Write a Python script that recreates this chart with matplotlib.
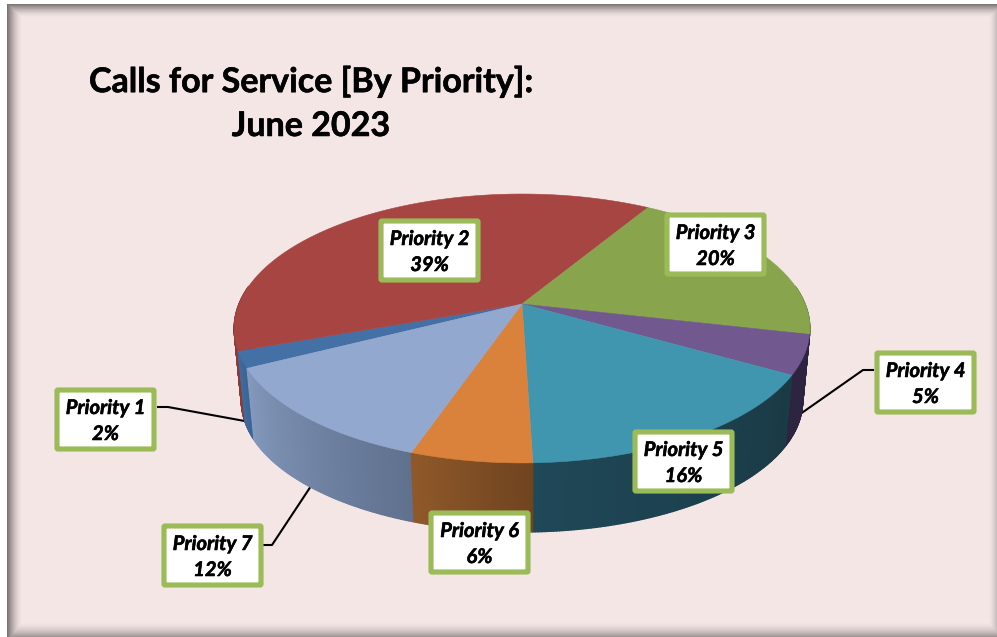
import numpy as np
import matplotlib
matplotlib.use("Agg")
import matplotlib.pyplot as plt
import matplotlib.patheffects as pe
from matplotlib.collections import PolyCollection
from matplotlib.colors import to_rgb
from matplotlib.patches import FancyBboxPatch, Polygon

# slice shares, clockwise from Priority 1
names = ["Priority 1", "Priority 2", "Priority 3", "Priority 4", "Priority 5", "Priority 6", "Priority 7"]
values = [2.0, 39.1, 20.0, 4.7, 16.2, 5.75, 12.25]
top_colors = ["#4471A5", "#A74543", "#88A44D", "#71588F", "#4096AE", "#DA823C", "#92A8CE"]
wall_right = ["#3A6496", "#8C3A37", "#6F8640", "#2C2440", "#1A3A45", "#6F441F", "#60718E"]
wall_left = ["#3F6A9C", "#8C3A37", "#6F8640", "#2C2440", "#1F4858", "#90592A", "#8398BC"]
# top-left corner of each label box
box_xy = [(54, 387), (378, 218), (664, 212), (874, 350), (632, 429), (428, 510), (161, 523)]
leaders = {
    0: [(157, 407), (168, 407), (250, 422)],
    3: [(874, 370), (863, 370), (796, 417)],
    6: [(263, 545), (272, 545), (313, 483)],
}

W, H = 997, 637
CX, CY = 522, 304
K = 0.182  # perspective, back of the pie is further away
A, B = 283, 130
DEPTH, BOTTOM_SCALE = 73, 0.975
START = -153.0


def project(t, lower=False):
    t = np.radians(t)
    d = 1 + K * np.sin(t)
    x = A * np.cos(t) / d
    y = -B * np.sin(t) / d
    if lower:
        return CX + BOTTOM_SCALE * x, CY + DEPTH + BOTTOM_SCALE * y
    return CX + x, CY + y


fig = plt.figure(figsize=(W / 100, H / 100), dpi=100, facecolor="white")
ax = fig.add_axes([0, 0, 1, 1])
ax.set_xlim(0, W)
ax.set_ylim(H, 0)
ax.axis("off")

# background panel with inner shadow
yy, xx = np.mgrid[0:H, 0:W]
panel = np.ones((H, W, 3)) * np.array(to_rgb("#F5E6E6"))
shade = np.maximum.reduce([
    0.50 * np.clip(1 - (xx - 7) / 15, 0, 1) ** 1.6,
    0.48 * np.clip(1 - (yy - 4) / 13, 0, 1) ** 1.6,
    0.25 * np.clip(1 - (997 - xx) / 10, 0, 1) ** 1.6,
    0.38 * np.clip(1 - (637 - yy) / 15, 0, 1) ** 1.6,
])
panel = panel * (1 - shade[..., None])
panel[:, :7] = 1
panel[:4, :] = 1
ax.imshow(panel, extent=(0, W, H, 0), interpolation="nearest", aspect="auto", zorder=0)

# slice angles, brought into the -188..172 range so the front is easy to clip
edges = START - np.cumsum([0] + values) * 3.6
slices = []
for i in range(len(values)):
    hi, lo = edges[i], edges[i + 1]
    if hi < -188:
        hi, lo = hi + 360, lo + 360
    slices.append((hi, lo))

# walls, from the sides towards the front
def clipped(s):
    return min(s[0], 8), max(s[1], -188)

order = sorted(range(len(values)), key=lambda i: -abs(sum(clipped(slices[i])) / 2 + 90))
for i in order:
    hi, lo = clipped(slices[i])
    if hi <= lo:
        continue
    ts = np.linspace(hi, lo, max(int((hi - lo) * 2), 2))
    c0, c1 = np.array(to_rgb(wall_right[i])), np.array(to_rgb(wall_left[i]))
    quads, cols = [], []
    for j in range(len(ts) - 1):
        x1, y1 = project(ts[j])
        x2, y2 = project(ts[j + 1])
        x3, y3 = project(ts[j + 1], True)
        x4, y4 = project(ts[j], True)
        quads.append([(x1, y1), (x2, y2), (x3, y3), (x4, y4)])
        cols.append(c0 + (c1 - c0) * j / (len(ts) - 1))
    ax.add_collection(PolyCollection(quads, facecolors=cols, edgecolors=cols, linewidths=1.0, zorder=2))

# top face
for i, (hi, lo) in enumerate(slices):
    ts = np.linspace(hi, lo, 200)
    x, y = project(ts)
    pts = np.column_stack([np.r_[CX, x], np.r_[CY, y]])
    ax.add_patch(Polygon(pts, closed=True, facecolor=top_colors[i], edgecolor=top_colors[i], linewidth=0.4, zorder=3))

# leader lines
for i, pts in leaders.items():
    ax.plot([p[0] for p in pts], [p[1] for p in pts], color="black", lw=1.5, zorder=1.5, solid_capstyle="butt")

# labels
heavy = [pe.withStroke(linewidth=0.4, foreground="black")]
for i, (bx, by) in enumerate(box_xy):
    ax.add_patch(FancyBboxPatch((bx + 3, by + 3), 97, 59, boxstyle="round,pad=0,rounding_size=1",
                                facecolor="white", edgecolor="#9BBB59", linewidth=3.7, zorder=5))
    ax.text(bx + 51.5, by + 21, names[i], ha="center", va="center", family="Lato", weight="bold",
            style="italic", fontsize=14.5, color="black", zorder=6, path_effects=heavy)
    ax.text(bx + 51.5, by + 47, f"{values[i]:.0f}%", ha="center", va="center", family="Lato", weight="bold",
            style="italic", fontsize=14.5, color="black", zorder=6, path_effects=heavy)

ax.text(311, 82, "Calls for Service [By Priority]:", ha="center", va="center", family="Lato",
        weight="bold", fontsize=24.5, color="black", zorder=6, path_effects=heavy)
ax.text(311, 126, "June 2023", ha="center", va="center", family="Lato",
        weight="bold", fontsize=24.5, color="black", zorder=6, path_effects=heavy)

fig.savefig("out.png", dpi=100)
